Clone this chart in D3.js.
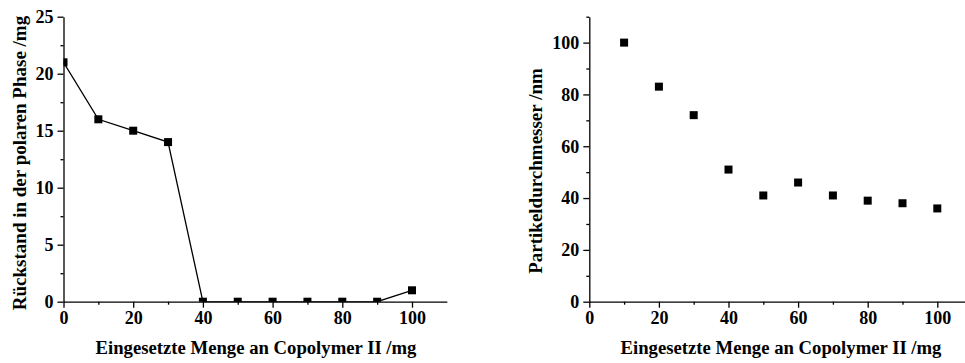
<!DOCTYPE html>
<html>
<head>
<meta charset="utf-8">
<script src="https://cdn.jsdelivr.net/npm/d3@7"></script>
<style>
  html, body { margin: 0; padding: 0; background: #fff; }
  svg { display: block; }
  text { font-family: "Liberation Serif", "Times New Roman", serif; font-weight: bold; fill: #000; }
</style>
</head>
<body>
<svg id="chart" width="965" height="363"></svg>
<script>
// Residue in the polar phase vs. amount of copolymer used
const residueX = [0, 10, 20, 30, 40, 50, 60, 70, 80, 90, 100];
const residueY = [21, 16, 15, 14, 0, 0, 0, 0, 0, 0, 1];
// Particle diameter vs. amount of copolymer used
const diameterX = [10, 20, 30, 40, 50, 60, 70, 80, 90, 100];
const diameterY = [100, 83, 72, 51, 41, 46, 41, 39, 38, 36];

const xTicks = [0, 20, 40, 60, 80, 100];
const xMinor = [10, 30, 50, 70, 90];
const leftYTicks = [0, 5, 10, 15, 20, 25];
const leftYMinor = [2.5, 7.5, 12.5, 17.5, 22.5];
const rightYTicks = [0, 20, 40, 60, 80, 100];
const rightYMinor = [10, 30, 50, 70, 90, 110];

const xTitle = "Eingesetzte Menge an Copolymer II /mg";
const leftYTitle = "Rückstand in der polaren Phase /mg";
const rightYTitle = "Partikeldurchmesser /nm";

const svg = d3.select("#chart");

function panel(cfg) {
  const g = svg.append("g");
  const x = d3.scaleLinear().domain([0, 110]).range([cfg.x0, cfg.x0 + 110 * cfg.kx]);
  const y = d3.scaleLinear().domain(cfg.yDomain).range([cfg.yBottom, cfg.yTop]);

  const clipId = "clip-" + cfg.id;
  svg.append("clipPath").attr("id", clipId)
    .append("rect")
    .attr("x", x(0)).attr("y", y(cfg.yDomain[1]))
    .attr("width", x(110) - x(0)).attr("height", y(cfg.yDomain[0]) - y(cfg.yDomain[1]));

  // axes: labelled major ticks plus short unlabelled minor ticks
  g.append("g").attr("transform", `translate(0,${y(0)})`)
    .call(d3.axisBottom(x).tickValues(xTicks).tickSize(6).tickSizeOuter(0).tickPadding(4).tickFormat(d3.format("d")));
  g.append("g").attr("transform", `translate(0,${y(0)})`)
    .call(d3.axisBottom(x).tickValues(xMinor).tickSize(3).tickSizeOuter(0).tickFormat(""))
    .select(".domain").remove();
  g.append("g").attr("transform", `translate(${x(0)},0)`)
    .call(d3.axisLeft(y).tickValues(cfg.yTicks).tickSize(6).tickSizeOuter(0).tickPadding(4).tickFormat(d3.format("d")));
  g.append("g").attr("transform", `translate(${x(0)},0)`)
    .call(d3.axisLeft(y).tickValues(cfg.yMinor).tickSize(3).tickSizeOuter(0).tickFormat(""))
    .select(".domain").remove();

  g.selectAll(".domain, .tick line").attr("stroke", "#000").attr("stroke-width", 1.3);
  g.selectAll(".tick text").attr("font-size", 18);

  const plot = g.append("g").attr("clip-path", `url(#${clipId})`);
  const pts = cfg.xs.map((v, i) => [v, cfg.ys[i]]);
  if (cfg.line) {
    plot.append("path")
      .attr("d", d3.line().x(d => x(d[0])).y(d => y(d[1]))(pts))
      .attr("fill", "none").attr("stroke", "#000").attr("stroke-width", 1.3);
  }
  const s = 8;
  plot.selectAll("rect.pt").data(pts).join("rect")
    .attr("class", "pt")
    .attr("x", d => x(d[0]) - s / 2).attr("y", d => y(d[1]) - s / 2)
    .attr("width", s).attr("height", s).attr("fill", "#000");

  // axis titles
  g.append("text")
    .attr("x", cfg.xTitleX).attr("y", 354)
    .attr("text-anchor", "middle").attr("font-size", 18.7)
    .text(xTitle);
  g.append("text")
    .attr("transform", `translate(${cfg.yTitleX},${cfg.yTitleY}) rotate(-90)`)
    .attr("text-anchor", "middle").attr("font-size", 19)
    .text(cfg.yTitle);
}

panel({
  id: "left", x0: 63.5, kx: 3.485,
  yDomain: [0, 25], yBottom: 301.7, yTop: 16.7,
  yTicks: leftYTicks, yMinor: leftYMinor,
  xs: residueX, ys: residueY, line: true,
  xTitleX: 256, yTitleX: 26, yTitleY: 163, yTitle: leftYTitle
});

panel({
  id: "right", x0: 589.3, kx: 3.48,
  yDomain: [0, 110], yBottom: 301.7, yTop: 16.7,
  yTicks: rightYTicks, yMinor: rightYMinor,
  xs: diameterX, ys: diameterY, line: false,
  xTitleX: 781, yTitleX: 542, yTitleY: 171, yTitle: rightYTitle
});
</script>
</body>
</html>
